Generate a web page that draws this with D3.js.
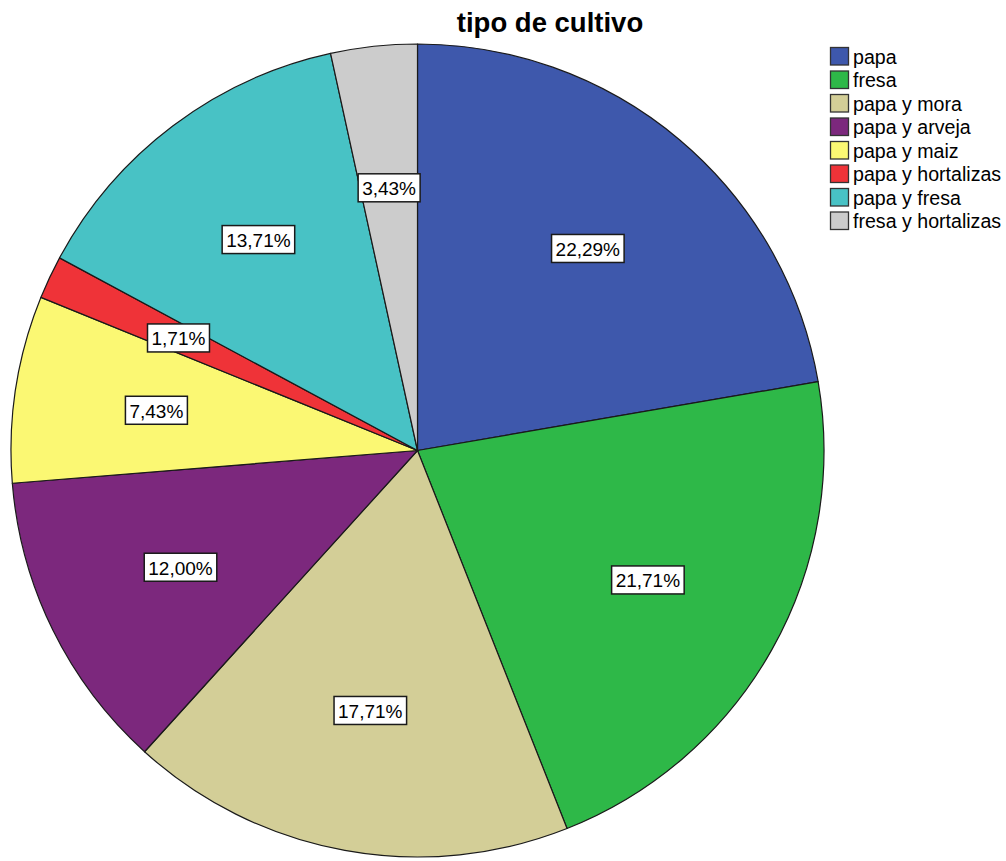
<!DOCTYPE html>
<html>
<head>
<meta charset="utf-8">
<script src="https://cdn.jsdelivr.net/npm/d3@7"></script>
<style>
  html, body { margin: 0; padding: 0; background: #fff; }
  svg { display: block; }
</style>
</head>
<body>
<svg id="chart" width="1006" height="861"></svg>
<script>
const title = "tipo de cultivo";
const categories = ["papa", "fresa", "papa y mora", "papa y arveja", "papa y maiz", "papa y hortalizas", "papa y fresa", "fresa y hortalizas"];
const percents = [22.29, 21.71, 17.71, 12.00, 7.43, 1.71, 13.71, 3.43];
const colors = ["#3E58AC", "#2EB848", "#D3CE97", "#7C287D", "#FBF873", "#EF3338", "#48C2C5", "#CCCCCC"];

const W = 1006, H = 861;
const cx = 417.5, cy = 450.5, R = 406.5;
const font = "'Liberation Sans', Arial, sans-serif";

const svg = d3.select("#chart");

const data = categories.map((c, i) => ({ cat: c, value: percents[i], color: colors[i] }));

const pie = d3.pie().value(d => d.value).sort(null).startAngle(0).endAngle(2 * Math.PI);
const arcs = pie(data);
const arc = d3.arc().innerRadius(0).outerRadius(R);
const labelArc = d3.arc().innerRadius(R * 0.65).outerRadius(R * 0.65);

const g = svg.append("g").attr("transform", `translate(${cx},${cy})`);

g.selectAll("path.slice")
  .data(arcs)
  .join("path")
  .attr("class", "slice")
  .attr("d", arc)
  .attr("fill", d => d.data.color)
  .attr("stroke", "#1a1a1a")
  .attr("stroke-width", 1.2)
  .attr("stroke-linejoin", "round");

const fmt = v => v.toFixed(2).replace(".", ",") + "%";

const labels = g.selectAll("g.lbl")
  .data(arcs)
  .join("g")
  .attr("class", "lbl")
  .attr("transform", d => `translate(${labelArc.centroid(d)})`);

labels.each(function(d) {
  const gl = d3.select(this);
  const t = gl.append("text")
    .attr("text-anchor", "middle")
    .attr("dominant-baseline", "central")
    .attr("font-family", font)
    .attr("font-size", 19)
    .attr("fill", "#000")
    .text(fmt(d.data.value));
  const bb = t.node().getBBox();
  gl.insert("rect", "text")
    .attr("x", bb.x - 4)
    .attr("y", -14)
    .attr("width", bb.width + 8)
    .attr("height", 28)
    .attr("fill", "#fff")
    .attr("stroke", "#1a1a1a")
    .attr("stroke-width", 1.5);
  t.attr("y", 1);
});

svg.append("text")
  .attr("x", 550)
  .attr("y", 32)
  .attr("text-anchor", "middle")
  .attr("font-family", font)
  .attr("font-weight", "bold")
  .attr("font-size", 27.5)
  .attr("fill", "#000")
  .text(title);

const legend = svg.append("g").attr("transform", "translate(830,47)");
const rowH = 23.5;
const items = legend.selectAll("g.item")
  .data(data)
  .join("g")
  .attr("class", "item")
  .attr("transform", (d, i) => `translate(0,${i * rowH})`);

items.append("rect")
  .attr("x", 0.5).attr("y", 0.5)
  .attr("width", 18).attr("height", 17.5)
  .attr("fill", d => d.color)
  .attr("stroke", "#333")
  .attr("stroke-width", 1.3);

items.append("text")
  .attr("x", 23)
  .attr("y", 9.5)
  .attr("dominant-baseline", "central")
  .attr("font-family", font)
  .attr("font-size", 19.6)
  .attr("fill", "#000")
  .text(d => d.cat);
</script>
</body>
</html>
